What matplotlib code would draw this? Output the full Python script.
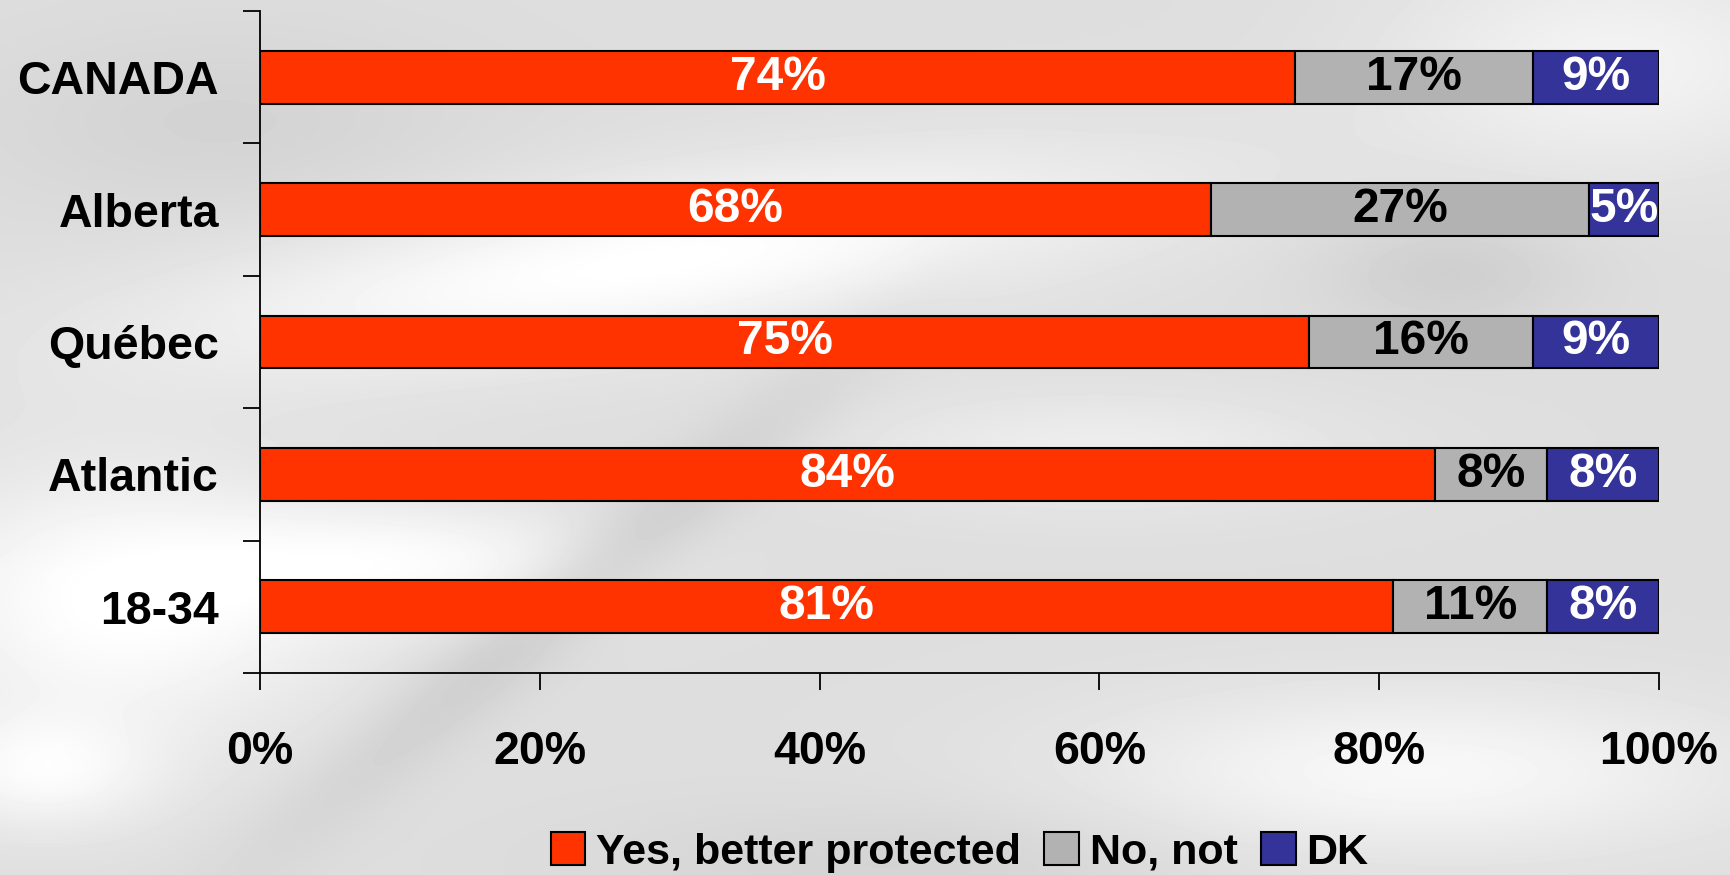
import numpy as np
import matplotlib.pyplot as plt
from matplotlib.patches import Patch

# survey results (%)
groups = ["CANADA", "Alberta", "Québec", "Atlantic", "18-34"]
yes = [74, 68, 75, 84, 81]
no = [17, 27, 16, 8, 11]
dk = [9, 5, 9, 8, 8]
series_names = ["Yes, better protected", "No, not", "DK"]
xticks = [0, 20, 40, 60, 80, 100]

colors = ["#FF3300", "#B2B2B2", "#333399"]
label_colors = ["white", "black", "white"]

plt.rcParams['font.family'] = ['Liberation Sans', 'DejaVu Sans']
plt.rcParams['font.weight'] = 'bold'

W, H = 1731, 875
fig = plt.figure(figsize=(W / 100, H / 100), dpi=100)

# soft grey swirl backdrop
yy, xx = np.mgrid[0:H:5, 0:W:5].astype(float)


def blob(cx, cy, sx, sy, ang=0.0):
    a = np.deg2rad(ang)
    dx, dy = xx - cx, yy - cy
    u = dx * np.cos(a) + dy * np.sin(a)
    v = -dx * np.sin(a) + dy * np.cos(a)
    return np.exp(-(u / sx) ** 2 - (v / sy) ** 2)


bg = np.full(xx.shape, 0.87)
bg += 0.13 * blob(650, 260, 480, 80, -8)
bg += 0.13 * blob(120, 600, 220, 130)
bg += 0.10 * blob(420, 560, 200, 60)
bg += 0.10 * blob(1420, 770, 320, 80)
bg += 0.08 * blob(1620, 60, 220, 110)
bg += 0.10 * blob(40, 770, 120, 60)
bg += 0.06 * blob(1100, 450, 250, 60)
bg -= 0.07 * blob(560, 600, 380, 45, -40)
bg -= 0.06 * blob(1450, 270, 130, 60)
bg -= 0.04 * blob(220, 120, 260, 100)
bg -= 0.04 * blob(900, 860, 300, 60)
bg = np.clip(bg, 0.78, 1.0)

bax = fig.add_axes([0, 0, 1, 1], zorder=-1)
bax.imshow(bg, cmap='gray', vmin=0, vmax=1, aspect='auto', interpolation='bicubic')
bax.axis('off')

ax = fig.add_axes([260 / W, 1 - 673 / H, (1659 - 260) / W, (673 - 11) / H])
ax.patch.set_alpha(0)

y = np.arange(len(groups))
left = np.zeros(len(groups))
for vals, name, c, tc in zip([yes, no, dk], series_names, colors, label_colors):
    bars = ax.barh(y, vals, left=left, height=0.4, color=c,
                   edgecolor='black', linewidth=1.5, label=name)
    ax.bar_label(bars, labels=[f"{v}%" for v in vals], label_type='center',
                 color=tc, fontsize=34.5, fontweight='bold')
    left += np.array(vals)

ax.set_xlim(0, 100)
ax.set_ylim(len(groups) - 0.5, -0.5)

ax.set_yticks(y)
ax.set_yticklabels(groups, fontsize=33.5, fontweight='bold')
ax.set_yticks(np.arange(-0.5, len(groups), 1), minor=True)
ax.tick_params(axis='y', which='major', length=0, pad=29.5)
ax.tick_params(axis='y', which='minor', length=12, width=1.3)

ax.set_xticks(xticks)
ax.set_xticklabels([f"{t}%" for t in xticks], fontsize=33.5, fontweight='bold')
ax.tick_params(axis='x', length=12, width=1.3, pad=29)

for s in ['top', 'right']:
    ax.spines[s].set_visible(False)
for s in ['left', 'bottom']:
    ax.spines[s].set_linewidth(1.3)

handles = [Patch(facecolor=c, edgecolor='black', linewidth=1.5) for c in colors]
ax.legend(handles, series_names, loc='center', bbox_to_anchor=(0.5, -0.271),
          ncol=3, frameon=False, fontsize=31, handlelength=0.8, handleheight=0.8,
          handletextpad=0.25, columnspacing=0.55, borderpad=0)

fig.savefig('out.png', dpi=100)
